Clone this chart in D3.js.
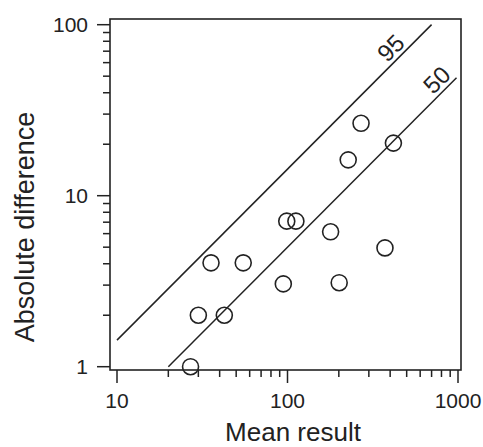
<!DOCTYPE html>
<html>
<head>
<meta charset="utf-8">
<script src="https://cdn.jsdelivr.net/npm/d3@7"></script>
<style>
  body { margin: 0; background: #fff; }
  text { font-family: "Liberation Sans", Arial, sans-serif; fill: #222; }
</style>
</head>
<body>
<div class="container"></div>
<script>
// points
let meanResult = [27, 30, 35.6, 42.6, 55, 94.5, 99, 112, 179, 201, 227, 270, 373, 418];
let absDiff = [1.0, 2.0, 4.05, 2.0, 4.05, 3.05, 7.1, 7.1, 6.15, 3.1, 16.2, 26.5, 4.95, 20.3];

// percentile lines: y = factor * x
let lineLabels = ["95", "50"];
let lineFactors = [0.143, 0.05];
let lineStart = [10, 20];
let lineEnd = [700, 980];
let labelAt = [400, 745];

let xTicks = [10, 100, 1000];
let yTicks = [1, 10, 100];

var svg = d3.select(".container")
  .append("svg")
  .attr("width", 483)
  .attr("height", 447);

let x = d3.scaleLog().domain([10, 1000]).range([117, 458]);
let y = d3.scaleLog().domain([1, 100]).range([366.7, 24.7]);

let ink = "#222";

// frame
svg.append("rect")
  .attr("x", 110).attr("y", 19)
  .attr("width", 351).attr("height", 351)
  .attr("fill", "none")
  .attr("stroke", ink)
  .attr("stroke-width", 1.6);

// log ticks: majors + minors (2..9 within each decade)
let minorTicks = (lo, hi) => {
  let out = [];
  for (let d = lo; d < hi; d *= 10) {
    for (let m = 2; m <= 9; m++) out.push(d * m);
  }
  return out;
};

let xAxis = svg.append("g").attr("transform", "translate(0,370)");
xAxis.selectAll("line.major").data(xTicks).enter().append("line")
  .attr("x1", (d) => x(d)).attr("x2", (d) => x(d))
  .attr("y1", 0).attr("y2", 13)
  .attr("stroke", ink).attr("stroke-width", 1.5);
xAxis.selectAll("line.minor").data(minorTicks(10, 1000)).enter().append("line")
  .attr("x1", (d) => x(d)).attr("x2", (d) => x(d))
  .attr("y1", 0).attr("y2", 7)
  .attr("stroke", ink).attr("stroke-width", 1.5);
xAxis.selectAll("text").data(xTicks).enter().append("text")
  .attr("x", (d) => x(d)).attr("y", 38)
  .attr("text-anchor", "middle")
  .attr("font-size", 21)
  .text((d) => d);

let yAxis = svg.append("g").attr("transform", "translate(110,0)");
yAxis.selectAll("line.major").data(yTicks).enter().append("line")
  .attr("y1", (d) => y(d)).attr("y2", (d) => y(d))
  .attr("x1", 0).attr("x2", -13)
  .attr("stroke", ink).attr("stroke-width", 1.5);
yAxis.selectAll("line.minor").data(minorTicks(1, 100)).enter().append("line")
  .attr("y1", (d) => y(d)).attr("y2", (d) => y(d))
  .attr("x1", 0).attr("x2", -7)
  .attr("stroke", ink).attr("stroke-width", 1.5);
yAxis.selectAll("text").data(yTicks).enter().append("text")
  .attr("x", -22).attr("y", (d) => y(d))
  .attr("dy", "0.35em")
  .attr("text-anchor", "end")
  .attr("font-size", 21)
  .text((d) => d);

// axis titles
svg.append("text")
  .attr("x", 293).attr("y", 441)
  .attr("text-anchor", "middle")
  .attr("font-size", 26)
  .text("Mean result");

svg.append("text")
  .attr("transform", "translate(34,227) rotate(-90)")
  .attr("text-anchor", "middle")
  .attr("font-size", 27)
  .text("Absolute difference");

// percentile lines
lineLabels.forEach((lab, i) => {
  let k = lineFactors[i];
  svg.append("line")
    .attr("x1", x(lineStart[i])).attr("y1", y(lineStart[i] * k))
    .attr("x2", x(lineEnd[i])).attr("y2", y(lineEnd[i] * k))
    .attr("stroke", ink)
    .attr("stroke-width", 1.5);

  let px = x(labelAt[i]);
  let py = y(labelAt[i] * k);
  let ang = Math.atan2(y(lineEnd[i] * k) - y(lineStart[i] * k), x(lineEnd[i]) - x(lineStart[i])) * 180 / Math.PI;
  svg.append("text")
    .attr("transform", `translate(${px},${py}) rotate(${ang})`)
    .attr("y", -4)
    .attr("text-anchor", "start")
    .attr("font-size", 24)
    .text(lab);
});

// points
svg.selectAll("circle.pt")
  .data(meanResult.map((m, i) => ({ m: m, a: absDiff[i] })))
  .enter()
  .append("circle")
  .attr("class", "pt")
  .attr("cx", (d) => x(d.m))
  .attr("cy", (d) => y(d.a))
  .attr("r", 8)
  .attr("fill", "none")
  .attr("stroke", ink)
  .attr("stroke-width", 1.6);
</script>
</body>
</html>
